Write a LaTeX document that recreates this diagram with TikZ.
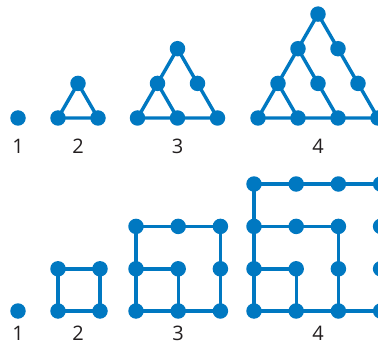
\documentclass[tikz,border=0pt]{standalone}
\usepackage{fontspec}
\setmainfont{Open Sans}
\usetikzlibrary{backgrounds}
\definecolor{dotblue}{HTML}{0078C1}
\definecolor{ink}{HTML}{231F20}
\tikzset{
  dot/.style={circle,fill=dotblue,draw=none,inner sep=0pt,minimum size=15.5pt},
  edge/.style={draw=dotblue,line width=3.4pt},
  lbl/.style={text=ink,font=\fontsize{20}{24}\selectfont,inner sep=0pt,anchor=center}
}
\begin{document}
\begin{tikzpicture}[x=1pt,y=-1pt]
\useasboundingbox (0,0) rectangle (378,345);

% ---------- triangular figures ----------
\node[dot] (t1) at (18,118) {};

\node[dot] (t2l) at (58,118) {};
\node[dot] (t2r) at (98,118) {};
\node[dot] (t2t) at (78,83.4) {};

\node[dot] (t3a) at (137.5,118) {};
\node[dot] (t3b) at (177.5,118) {};
\node[dot] (t3c) at (217.5,118) {};
\node[dot] (t3d) at (157.5,83.4) {};
\node[dot] (t3e) at (197.5,83.4) {};
\node[dot] (t3f) at (177.5,48.7) {};

\node[dot] (t4a) at (258,118) {};
\node[dot] (t4b) at (298,118) {};
\node[dot] (t4c) at (338,118) {};
\node[dot] (t4d) at (378,118) {};
\node[dot] (t4e) at (278,83.4) {};
\node[dot] (t4f) at (318,83.4) {};
\node[dot] (t4g) at (358,83.4) {};
\node[dot] (t4h) at (298,48.7) {};
\node[dot] (t4i) at (338,48.7) {};
\node[dot] (t4j) at (318,14.1) {};

\begin{scope}[on background layer]
  \draw[edge] (t2l.center) -- (t2r.center) -- (t2t.center) -- cycle;

  \draw[edge] (t3a.center) -- (t3b.center) -- (t3c.center) -- (t3e.center)
              -- (t3f.center) -- (t3d.center) -- cycle;
  \draw[edge] (t3d.center) -- (t3b.center);

  \draw[edge] (t4a.center) -- (t4b.center) -- (t4c.center) -- (t4d.center)
              -- (t4g.center) -- (t4i.center) -- (t4j.center) -- (t4h.center)
              -- (t4e.center) -- cycle;
  \draw[edge] (t4h.center) -- (t4f.center) -- (t4c.center);
  \draw[edge] (t4e.center) -- (t4b.center);
\end{scope}

\node[lbl] (lt1) at (18,146) {1};
\node[lbl] (lt2) at (78,146) {2};
\node[lbl] (lt3) at (177.5,146) {3};
\node[lbl] (lt4) at (318,146) {4};

% ---------- square figures ----------
\node[dot] (s1) at (18,311) {};

\node[dot] (s2a) at (58,311) {};
\node[dot] (s2b) at (100,311) {};
\node[dot] (s2c) at (58,268.8) {};
\node[dot] (s2d) at (100,268.8) {};

\node[dot] (s3a) at (136,311) {};
\node[dot] (s3b) at (178.2,311) {};
\node[dot] (s3c) at (220.4,311) {};
\node[dot] (s3d) at (136,268.8) {};
\node[dot] (s3e) at (178.2,268.8) {};
\node[dot] (s3f) at (220.4,268.8) {};
\node[dot] (s3g) at (136,226.4) {};
\node[dot] (s3h) at (178.2,226.4) {};
\node[dot] (s3i) at (220.4,226.4) {};

\node[dot] (s4a) at (254,311) {};
\node[dot] (s4b) at (296.2,311) {};
\node[dot] (s4c) at (338.4,311) {};
\node[dot] (s4d) at (380.6,311) {};
\node[dot] (s4e) at (254,268.8) {};
\node[dot] (s4f) at (296.2,268.8) {};
\node[dot] (s4g) at (338.4,268.8) {};
\node[dot] (s4h) at (380.6,268.8) {};
\node[dot] (s4i) at (254,226.4) {};
\node[dot] (s4j) at (296.2,226.4) {};
\node[dot] (s4k) at (338.4,226.4) {};
\node[dot] (s4l) at (380.6,226.4) {};
\node[dot] (s4m) at (254,184) {};
\node[dot] (s4n) at (296.2,184) {};
\node[dot] (s4o) at (338.4,184) {};
\node[dot] (s4p) at (380.6,184) {};

\begin{scope}[on background layer]
  \draw[edge] (s2a.center) -- (s2b.center) -- (s2d.center) -- (s2c.center) -- cycle;

  \draw[edge] (s3a.center) -- (s3b.center) -- (s3c.center) -- (s3f.center)
              -- (s3i.center) -- (s3h.center) -- (s3g.center) -- (s3d.center) -- cycle;
  \draw[edge] (s3d.center) -- (s3e.center) -- (s3b.center);

  \draw[edge] (s4a.center) -- (s4b.center) -- (s4c.center) -- (s4d.center)
              -- (s4h.center) -- (s4l.center) -- (s4p.center) -- (s4o.center)
              -- (s4n.center) -- (s4m.center) -- (s4i.center) -- (s4e.center) -- cycle;
  \draw[edge] (s4i.center) -- (s4j.center) -- (s4k.center) -- (s4g.center) -- (s4c.center);
  \draw[edge] (s4e.center) -- (s4f.center) -- (s4b.center);
\end{scope}

\node[lbl] (ls1) at (18,333.5) {1};
\node[lbl] (ls2) at (78,333.5) {2};
\node[lbl] (ls3) at (178,333.5) {3};
\node[lbl] (ls4) at (318,333.5) {4};
\end{tikzpicture}
\end{document}
